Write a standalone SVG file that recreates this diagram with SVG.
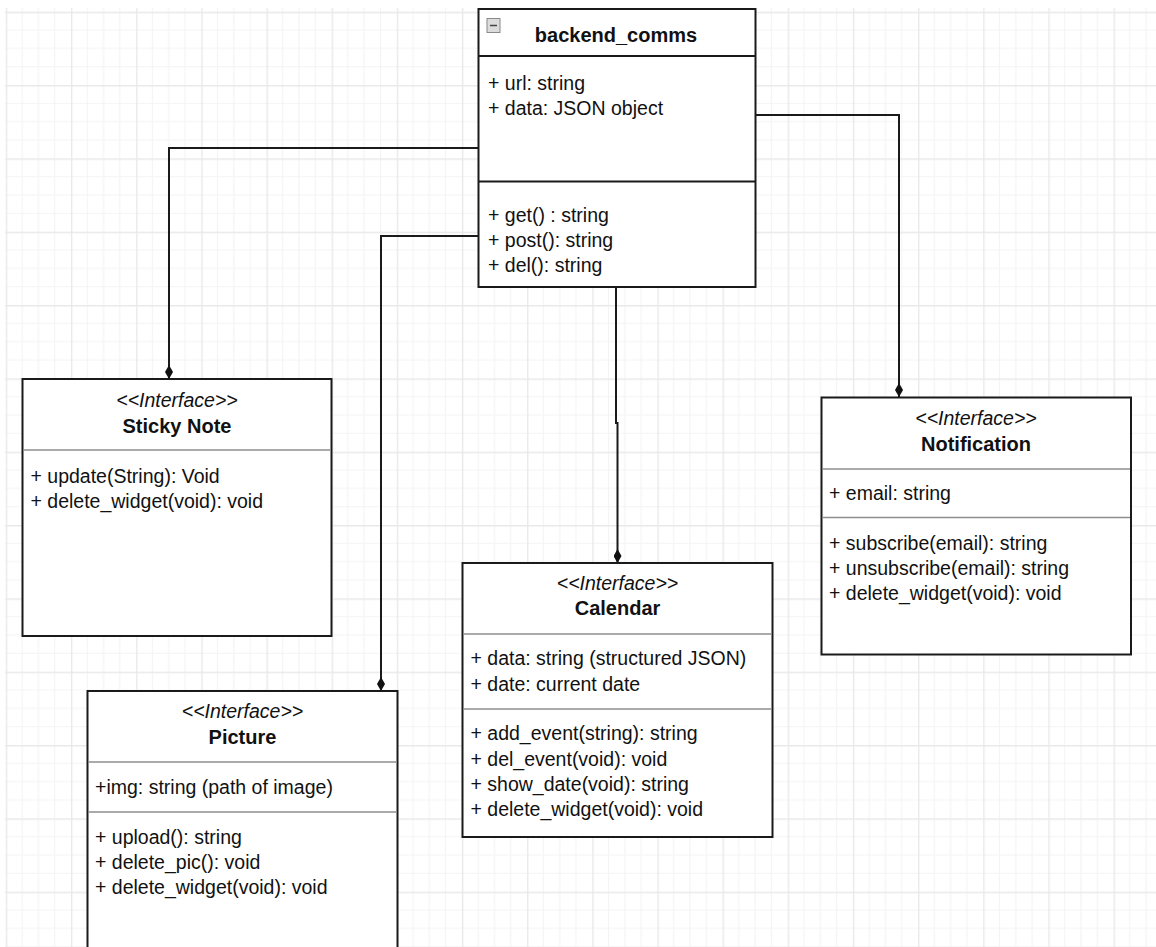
<svg xmlns="http://www.w3.org/2000/svg" width="1156" height="947" viewBox="0 0 1156 947">
<style>
text{font-family:"Liberation Sans",Arial,sans-serif;font-size:19.5px;fill:#111}
.t{font-weight:bold;text-anchor:middle;font-size:20px}
.s{font-style:italic;text-anchor:middle}
.box{fill:#fff;stroke:#1a1a1a;stroke-width:2}
.sep{stroke:#8e8e8e;stroke-width:1.6}
.sepd{stroke:#1a1a1a;stroke-width:2}
.con{fill:none;stroke:#1a1a1a;stroke-width:2}
.gmin{stroke:#f4f4f4;stroke-width:1.2}
.gmaj{stroke:#e9e9e9;stroke-width:1.4}
</style>
<defs>
<pattern id="grid" patternUnits="userSpaceOnUse" x="5.8" y="11.7" width="65.16" height="73.33">
<line class="gmin" x1="16.29" y1="0" x2="16.29" y2="73.33"/>
<line class="gmin" x1="32.58" y1="0" x2="32.58" y2="73.33"/>
<line class="gmin" x1="48.87" y1="0" x2="48.87" y2="73.33"/>
<line class="gmin" x1="0" y1="18.33" x2="65.16" y2="18.33"/>
<line class="gmin" x1="0" y1="36.67" x2="65.16" y2="36.67"/>
<line class="gmin" x1="0" y1="55" x2="65.16" y2="55"/>
<line class="gmaj" x1="0.7" y1="0" x2="0.7" y2="73.33"/>
<line class="gmaj" x1="0" y1="0.7" x2="65.16" y2="0.7"/>
</pattern>
<marker id="dia" viewBox="0 0 14 8" refX="14" refY="4" markerWidth="14" markerHeight="8" markerUnits="userSpaceOnUse" orient="auto">
<path d="M0 4 L7 0 L14 4 L7 8 Z" fill="#111"/>
</marker>
</defs>
<rect x="0" y="0" width="1156" height="947" fill="#fff"/>
<rect x="5" y="8" width="1151" height="939" fill="url(#grid)"/>

<g id="connectors">
<path class="con" d="M478 148 H169 V379" marker-end="url(#dia)"/>
<path class="con" d="M478 236 H381 V691" marker-end="url(#dia)"/>
<path class="con" d="M616 287 V423 H617.5 V563" marker-end="url(#dia)"/>
<path class="con" d="M756 115 H899 V397" marker-end="url(#dia)"/>
</g>

<g id="backend_comms">
<rect class="box" x="478.5" y="9" width="277" height="278"/>
<line class="sepd" x1="478.5" y1="56" x2="755.5" y2="56"/>
<line class="sepd" x1="478.5" y1="181.5" x2="755.5" y2="181.5"/>
<rect x="487" y="18.5" width="13" height="14" fill="#dcdcdc" stroke="#8a8a8a" stroke-width="1"/>
<line x1="490" y1="25.5" x2="497" y2="25.5" stroke="#444" stroke-width="1.5"/>
<text class="t" x="616" y="42">backend_comms</text>
<text x="488" y="90">+ url: string</text>
<text x="488" y="114.5">+ data: JSON object</text>
<text x="488" y="221.5">+ get() : string</text>
<text x="488" y="246.5">+ post(): string</text>
<text x="488" y="271.5">+ del(): string</text>
</g>

<g id="sticky_note">
<rect class="box" x="22.5" y="379" width="309" height="257"/>
<line class="sep" x1="23.5" y1="450" x2="330.5" y2="450"/>
<text class="s" x="177" y="407">&lt;&lt;Interface&gt;&gt;</text>
<text class="t" x="177" y="433">Sticky Note</text>
<text x="30.5" y="482.5">+ update(String): Void</text>
<text x="30.5" y="508">+ delete_widget(void): void</text>
</g>

<g id="calendar">
<rect class="box" x="462.5" y="563" width="310" height="274"/>
<line class="sep" x1="463.5" y1="634" x2="771.5" y2="634"/>
<line class="sep" x1="463.5" y1="709" x2="771.5" y2="709"/>
<text class="s" x="617.5" y="590">&lt;&lt;Interface&gt;&gt;</text>
<text class="t" x="617.5" y="615">Calendar</text>
<text x="470.5" y="665">+ data: string (structured JSON)</text>
<text x="470.5" y="690.5">+ date: current date</text>
<text x="470.5" y="740">+ add_event(string): string</text>
<text x="470.5" y="765.5">+ del_event(void): void</text>
<text x="470.5" y="790.5">+ show_date(void): string</text>
<text x="470.5" y="816">+ delete_widget(void): void</text>
</g>

<g id="notification">
<rect class="box" x="821.5" y="397.5" width="309.5" height="257"/>
<line class="sep" x1="822.5" y1="469" x2="1130" y2="469"/>
<line class="sep" x1="822.5" y1="517.5" x2="1130" y2="517.5"/>
<text class="s" x="976" y="425">&lt;&lt;Interface&gt;&gt;</text>
<text class="t" x="976" y="450.5">Notification</text>
<text x="829" y="500">+ email: string</text>
<text x="829" y="550">+ subscribe(email): string</text>
<text x="829" y="575">+ unsubscribe(email): string</text>
<text x="829" y="600">+ delete_widget(void): void</text>
</g>

<g id="picture">
<rect class="box" x="87.5" y="691" width="310" height="270"/>
<line class="sep" x1="88.5" y1="762" x2="396.5" y2="762"/>
<line class="sep" x1="88.5" y1="812" x2="396.5" y2="812"/>
<text class="s" x="242.5" y="717.5">&lt;&lt;Interface&gt;&gt;</text>
<text class="t" x="242.5" y="743.5">Picture</text>
<text x="95" y="793.5">+img: string (path of image)</text>
<text x="95" y="843.5">+ upload(): string</text>
<text x="95" y="868.5">+ delete_pic(): void</text>
<text x="95" y="893.5">+ delete_widget(void): void</text>
</g>
</svg>
